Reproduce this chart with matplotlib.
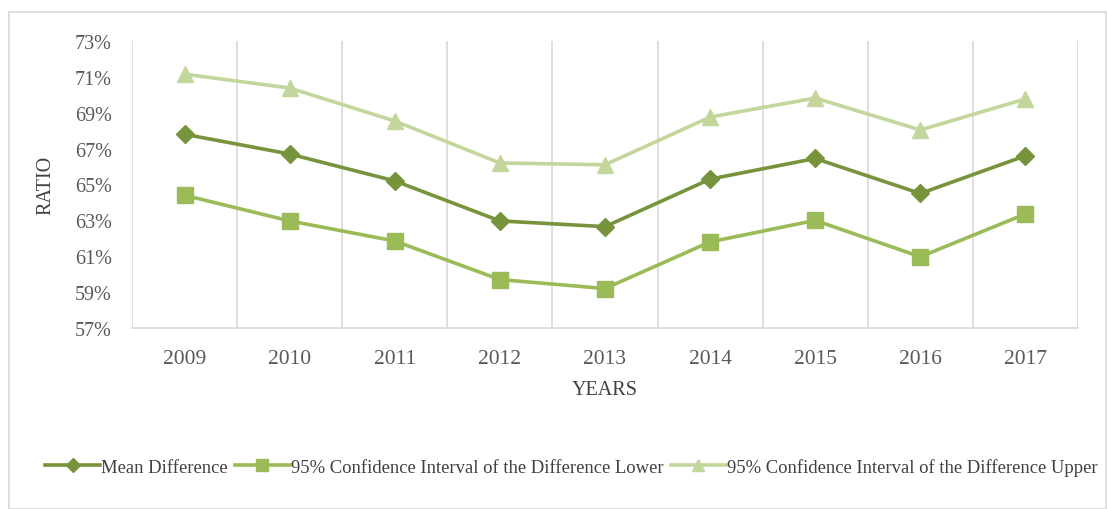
import matplotlib
matplotlib.use("Agg")
import matplotlib.pyplot as plt
from matplotlib.patches import Rectangle

years = ["2009", "2010", "2011", "2012", "2013", "2014", "2015", "2016", "2017"]
mean_diff = [67.8, 66.7, 65.2, 62.97, 62.65, 65.3, 66.45, 64.5, 66.6]
ci_lower = [64.4, 62.97, 61.85, 59.7, 59.2, 61.8, 63.0, 60.97, 63.36]
ci_upper = [71.15, 70.38, 68.54, 66.2, 66.1, 68.76, 69.82, 68.04, 69.77]
yticks = [57, 59, 61, 63, 65, 67, 69, 71, 73]

plt.rcParams['font.family'] = ['Liberation Serif', 'DejaVu Serif']

fig = plt.figure(figsize=(11.07, 5.10), dpi=100)
fig.patches.append(Rectangle((9/1107, 0), (1106-9)/1107, 1-13/510, transform=fig.transFigure,
                             fill=False, edgecolor='#D9D9D9', linewidth=1.2))
ax = fig.add_axes([132/1107, 1-329/510, (1078-132)/1107, (329-42)/510])

x = list(range(len(years)))
ax.plot(x, mean_diff, color='#77933C', linewidth=2.6, marker='D', markersize=9,
        label='Mean Difference', zorder=3)
ax.plot(x, ci_lower, color='#9BBB59', linewidth=2.6, marker='s', markersize=11,
        label='95% Confidence Interval of the Difference Lower', zorder=3)
ax.plot(x, ci_upper, color='#C3D69B', linewidth=2.6, marker='^', markersize=12,
        label='95% Confidence Interval of the Difference Upper', zorder=3)

ax.set_xlim(-0.5, len(years) - 0.5)
ax.set_ylim(57, 73)
ax.set_yticks(yticks)
ax.set_yticklabels([f"{v}%" for v in yticks])
ax.set_xticks(x)
ax.set_xticklabels(years)
for b in [i - 0.5 for i in range(len(years) + 1)]:
    ax.axvline(b, color='#D9D9D9', linewidth=1.2, zorder=1)

for s in ['top', 'right', 'left']:
    ax.spines[s].set_visible(False)
ax.spines['bottom'].set_color('#D9D9D9')
ax.spines['bottom'].set_linewidth(1.2)
ax.tick_params(axis='y', length=0, colors='#595959', labelsize=14.5, pad=14.5)
ax.tick_params(axis='x', length=0, colors='#595959', labelsize=15.5, pad=15)
ax.set_xlabel('YEARS', fontsize=14.5, color='#404040', labelpad=8.5)
ax.set_ylabel('RATIO', fontsize=14.5, color='#404040', labelpad=14)

fig.legend(loc='center', bbox_to_anchor=(0.516, 1-468/510), ncol=3, frameon=False,
           fontsize=13.4, handlelength=2.95, handletextpad=0.05, columnspacing=0.4,
           markerscale=0.75, labelcolor='#404040')

fig.savefig('out.png', dpi=100)
